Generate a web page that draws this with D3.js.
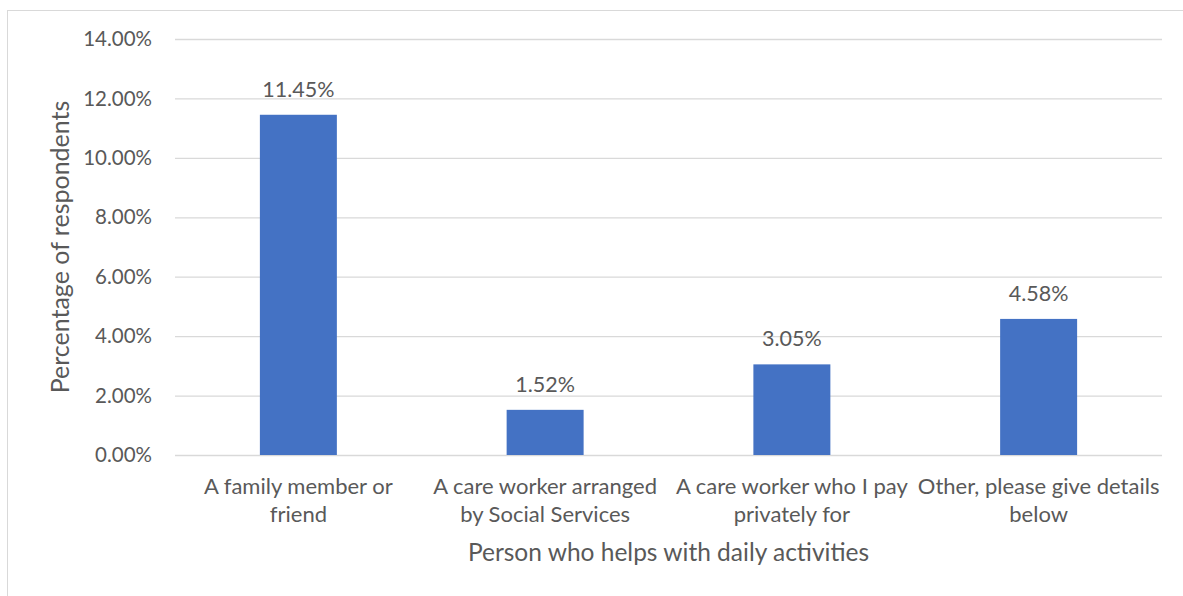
<!DOCTYPE html>
<html>
<head>
<meta charset="utf-8">
<script src="https://cdn.jsdelivr.net/npm/d3@7"></script>
<style>
  body { margin: 0; background: #fff; }
  text { font-family: Lato, "Open Sans", sans-serif; fill: #595959; }
</style>
</head>
<body>
<script>
// Chart data.
const categories = [
  ['A family member or', 'friend'],
  ['A care worker arranged', 'by Social Services'],
  ['A care worker who I pay', 'privately for'],
  ['Other, please give details', 'below']
];
const values = [11.45, 1.52, 3.05, 4.58];
const yTicks = [0, 2, 4, 6, 8, 10, 12, 14];

const width = 1183;
const height = 596;
const plotLeft = 175, plotRight = 1162, plotTop = 39, plotBottom = 455;

const svg = d3.select('body')
  .append('svg')
  .attr('width', width)
  .attr('height', height);

// Chart frame.
svg.append('rect')
  .attr('x', 7.5)
  .attr('y', 10.5)
  .attr('width', width)
  .attr('height', height)
  .attr('fill', 'none')
  .attr('stroke', '#d9d9d9');

const xScale = d3.scaleBand()
  .domain(d3.range(categories.length))
  .range([plotLeft, plotRight]);
const yScale = d3.scaleLinear()
  .domain([0, 14])
  .range([plotBottom, plotTop]);

// Gridlines.
svg.append('g')
  .selectAll('line')
  .data(yTicks)
  .enter()
  .append('line')
  .attr('x1', plotLeft)
  .attr('x2', plotRight)
  .attr('y1', (d) => yScale(d) + 0.5)
  .attr('y2', (d) => yScale(d) + 0.5)
  .attr('stroke', '#d9d9d9')
  .attr('stroke-width', 1.3);

// Y tick labels.
svg.append('g')
  .selectAll('text')
  .data(yTicks)
  .enter()
  .append('text')
  .attr('x', 152)
  .attr('y', (d) => yScale(d))
  .attr('dy', '0.35em')
  .attr('text-anchor', 'end')
  .style('font-size', '20.5px')
  .text((d) => d.toFixed(2) + '%');

// Bars.
const barWidth = xScale.bandwidth() * 0.312;
svg.append('g')
  .selectAll('rect')
  .data(values)
  .enter()
  .append('rect')
  .attr('x', (d, i) => xScale(i) + (xScale.bandwidth() - barWidth) / 2)
  .attr('y', (d) => yScale(d))
  .attr('width', barWidth)
  .attr('height', (d) => yScale(0) - yScale(d))
  .attr('fill', '#4472c4');

// Value labels.
svg.append('g')
  .selectAll('text')
  .data(values)
  .enter()
  .append('text')
  .attr('x', (d, i) => xScale(i) + xScale.bandwidth() / 2)
  .attr('y', (d) => yScale(d) - 18)
  .attr('text-anchor', 'middle')
  .style('font-size', '21.5px')
  .text((d) => d.toFixed(2) + '%');

// Category labels.
const catLabels = svg.append('g')
  .selectAll('text')
  .data(categories)
  .enter()
  .append('text')
  .attr('text-anchor', 'middle')
  .style('font-size', '22px');
catLabels.selectAll('tspan')
  .data((d, i) => d.map((line) => ({ line: line, i: i })))
  .enter()
  .append('tspan')
  .attr('x', (d) => xScale(d.i) + xScale.bandwidth() / 2)
  .attr('y', (d, j) => 494 + j * 28)
  .text((d) => d.line);

// Axis titles.
svg.append('text')
  .attr('x', (plotLeft + plotRight) / 2)
  .attr('y', 561)
  .attr('text-anchor', 'middle')
  .style('font-size', '24.5px')
  .text('Person who helps with daily activities');

svg.append('text')
  .attr('transform', 'translate(69, 247) rotate(-90)')
  .attr('text-anchor', 'middle')
  .style('font-size', '25px')
  .text('Percentage of respondents');
</script>
</body>
</html>
